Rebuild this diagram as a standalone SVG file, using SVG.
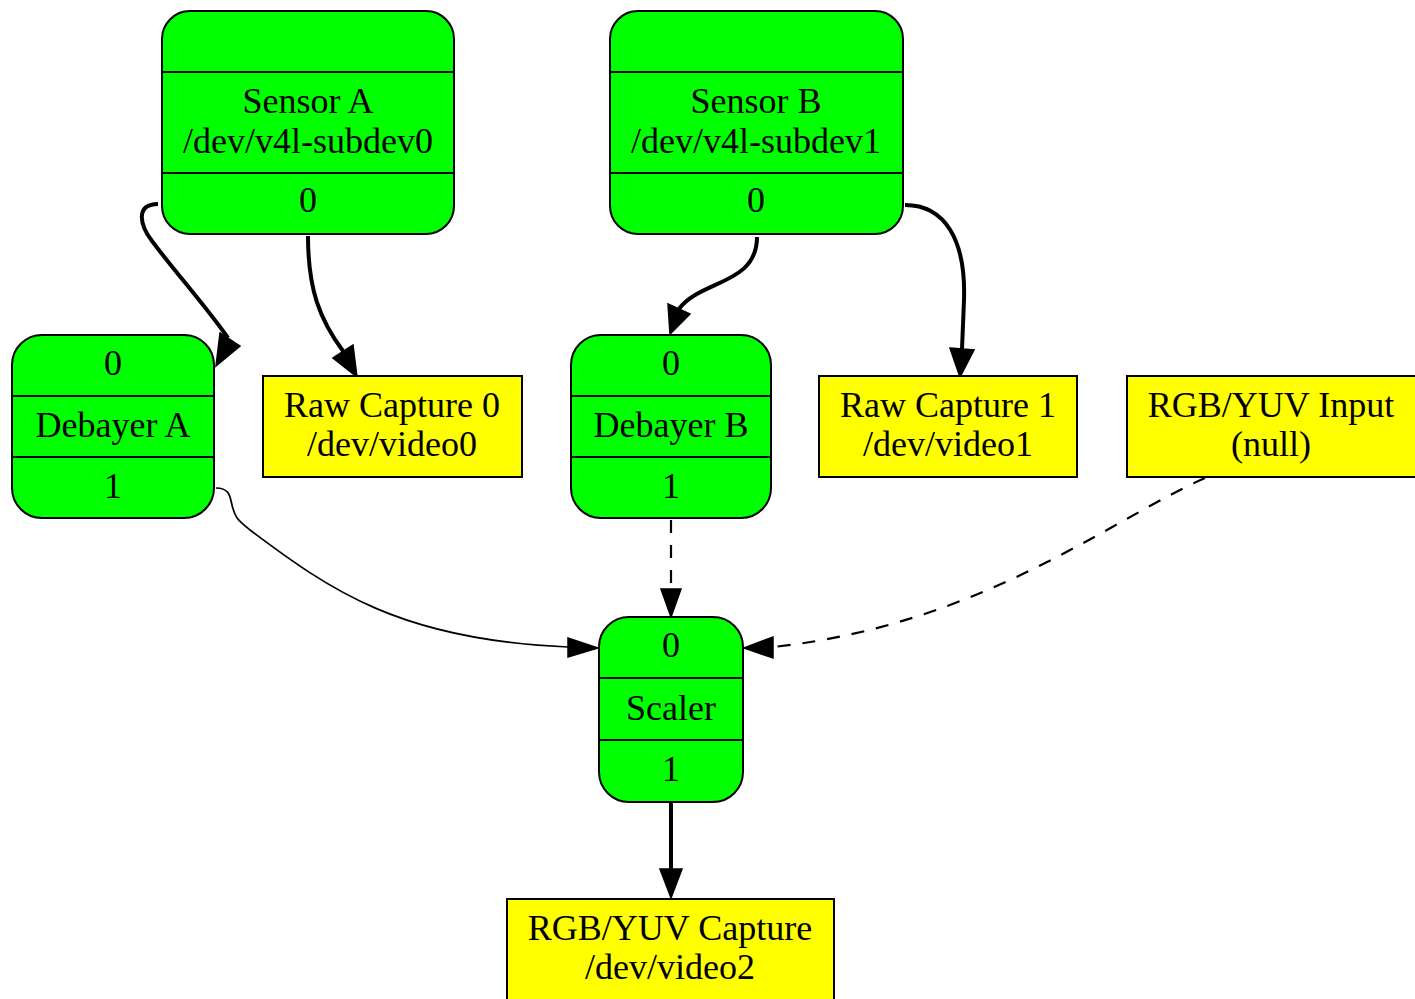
<svg xmlns="http://www.w3.org/2000/svg" width="1415" height="999" viewBox="0 0 1415 999">
<style>
.ent{fill:#00ff00;stroke:#000;stroke-width:2}
.dev{fill:#ffff00;stroke:#000;stroke-width:2}
.sep{stroke:#000;stroke-width:2}
text{font-family:"Liberation Serif","Times New Roman",serif;font-size:36px;fill:#000;text-anchor:middle}
.thick{fill:none;stroke:#000;stroke-width:4}
.thin{fill:none;stroke:#000;stroke-width:1.7}
.dash{fill:none;stroke:#000;stroke-width:2.2;stroke-dasharray:13,12}
.ah{fill:#000;stroke:#000;stroke-width:1.5}
</style>
<rect width="1415" height="999" fill="#fff"/>
<g id="connectors">
<path class="thick" d="M158,204 C136,204 139,224 152,241 C175,272 205,305 228,338"/>
<polygon class="ah" points="220,333 240,346 216,366"/>
<path class="thick" d="M308,236 C308,290 320,320 343,351"/>
<polygon class="ah" points="333,358 353,345 357,377"/>
<path class="thick" d="M757,237 C757,285 700,280 679,309"/>
<polygon class="ah" points="668,304 690,314 670,334"/>
<path class="thick" d="M905,205 C945,205 966,240 964,300 L962,349"/>
<polygon class="ah" points="950,348 974,350 960,377"/>
<path class="thin" d="M216,488 C230,488 230,497 232,505 C235,518 238,520 250,530 C330,590 400,640 568,647"/>
<polygon class="ah" points="568,638 568,657 598,648"/>
<path class="dash" d="M671,520 L671,590"/>
<polygon class="ah" points="661,589 681,589 671,617"/>
<path class="dash" d="M1205,478 C1110,520 980,625 773,647"/>
<polygon class="ah" points="773,637 773,658 744,648"/>
<path class="thick" d="M671,802 L671,870"/>
<polygon class="ah" points="660,869 682,869 671,898"/>
</g>
<g id="sensorA">
<rect class="ent" x="162" y="11" width="292" height="223" rx="28"/>
<line class="sep" x1="162" y1="72" x2="454" y2="72"/>
<line class="sep" x1="162" y1="173" x2="454" y2="173"/>
<text x="308" y="113">Sensor A</text>
<text x="308" y="153">/dev/v4l-subdev0</text>
<text x="308" y="212">0</text>
</g>
<g id="sensorB">
<rect class="ent" x="610" y="11" width="293" height="223" rx="28"/>
<line class="sep" x1="610" y1="72" x2="903" y2="72"/>
<line class="sep" x1="610" y1="173" x2="903" y2="173"/>
<text x="756" y="113">Sensor B</text>
<text x="756" y="153">/dev/v4l-subdev1</text>
<text x="756" y="212">0</text>
</g>
<g id="debayerA">
<rect class="ent" x="12" y="335" width="202" height="183" rx="30"/>
<line class="sep" x1="12" y1="396" x2="214" y2="396"/>
<line class="sep" x1="12" y1="457" x2="214" y2="457"/>
<text x="113" y="375">0</text>
<text x="113" y="437">Debayer A</text>
<text x="113" y="498">1</text>
</g>
<g id="rawCapture0">
<rect class="dev" x="263" y="376" width="259" height="101"/>
<text x="392" y="417">Raw Capture 0</text>
<text x="392" y="456">/dev/video0</text>
</g>
<g id="debayerB">
<rect class="ent" x="571" y="335" width="200" height="183" rx="30"/>
<line class="sep" x1="571" y1="396" x2="771" y2="396"/>
<line class="sep" x1="571" y1="457" x2="771" y2="457"/>
<text x="671" y="375">0</text>
<text x="671" y="437">Debayer B</text>
<text x="671" y="498">1</text>
</g>
<g id="rawCapture1">
<rect class="dev" x="819" y="376" width="258" height="101"/>
<text x="948" y="417">Raw Capture 1</text>
<text x="948" y="456">/dev/video1</text>
</g>
<g id="rgbInput">
<rect class="dev" x="1127" y="376" width="290" height="101"/>
<text x="1271" y="417">RGB/YUV Input</text>
<text x="1271" y="456">(null)</text>
</g>
<g id="scaler">
<rect class="ent" x="599" y="617" width="144" height="185" rx="30"/>
<line class="sep" x1="599" y1="678" x2="743" y2="678"/>
<line class="sep" x1="599" y1="740" x2="743" y2="740"/>
<text x="671" y="657">0</text>
<text x="671" y="720">Scaler</text>
<text x="671" y="781">1</text>
</g>
<g id="rgbCapture">
<rect class="dev" x="507" y="899" width="327" height="110"/>
<text x="670" y="940">RGB/YUV Capture</text>
<text x="670" y="979">/dev/video2</text>
</g>
</svg>
